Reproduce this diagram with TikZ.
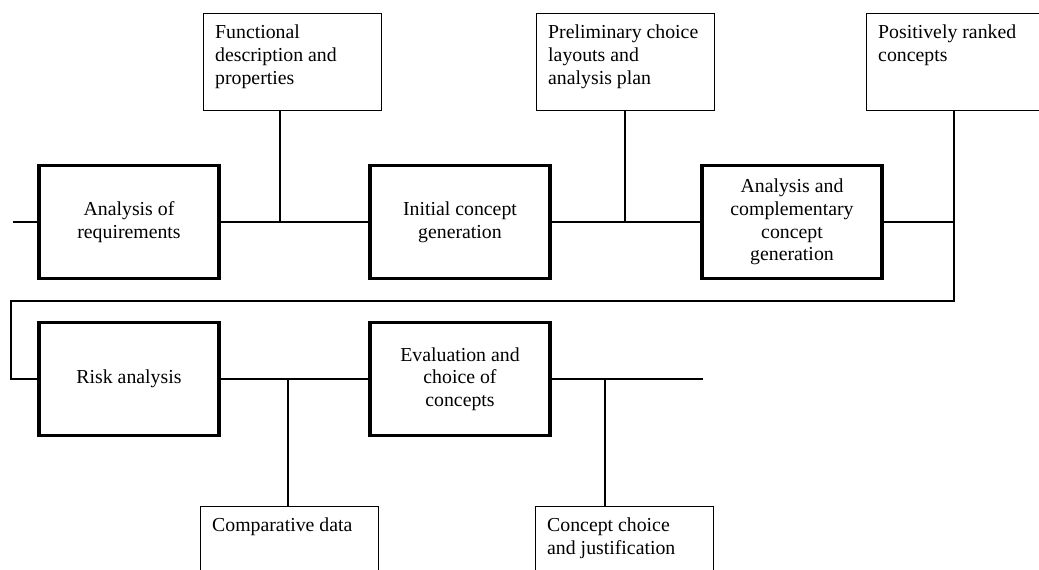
\documentclass[tikz,border=0pt]{standalone}
\usepackage{fontspec}
\setmainfont{Liberation Serif}
\usetikzlibrary{calc}
\begin{document}
\begin{tikzpicture}[x=1pt,y=-1pt,
  stage/.style={draw, line width=3.1pt, rectangle, minimum width=180pt, minimum height=113pt,
    inner sep=0pt, align=center, font=\fontsize{19.8}{22.7}\selectfont},
  docbox/.style={draw, line width=1.4pt, rectangle, anchor=north west, inner sep=0pt},
  doctext/.style={anchor=north west, inner sep=0pt, align=left, font=\fontsize{19.8}{22.7}\selectfont},
  link/.style={line width=2.2pt}]
\useasboundingbox (0,0) rectangle (1039,570);
\clip (0,0) rectangle (1039,570);

% documents produced along the way
\node[docbox, minimum width=178pt, minimum height=97pt] (fd) at (203,13) {};
\node[doctext] (fdt) at ($(fd.north west)+(12,12)$) {Functional\\description and\\properties};
\node[docbox, minimum width=178pt, minimum height=97pt] (pc) at (536,13) {};
\node[doctext] (pct) at ($(pc.north west)+(12,12)$) {Preliminary choice\\layouts and\\analysis plan};
\node[docbox, minimum width=190pt, minimum height=97pt] (pr) at (866,13) {};
\node[doctext] (prt) at ($(pr.north west)+(12,12)$) {Positively ranked\\concepts};
\node[docbox, minimum width=178pt, minimum height=90pt] (cd) at (200,506) {};
\node[doctext] (cdt) at ($(cd.north west)+(12,12)$) {Comparative data};
\node[docbox, minimum width=178pt, minimum height=90pt] (cc) at (535,506) {};
\node[doctext] (cct) at ($(cc.north west)+(12,12)$) {Concept choice\\and justification};

% process stages
\node[stage] (req) at (129,222) {Analysis of\\requirements};
\node[stage] (init) at (460,222) {Initial concept\\generation};
\node[stage] (anc) at (792,222) {Analysis and\\complementary\\concept\\generation};
\node[stage] (risk) at (129,379) {Risk analysis};
\node[stage] (eval) at (460,379) {Evaluation and\\choice of\\concepts};

% junction points and free ends
\coordinate (in) at (13,222);
\coordinate (j1) at (280,222);
\coordinate (j2) at (625,222);
\coordinate (j3) at (954,222);
\coordinate (r1) at (954,301);
\coordinate (r2) at (11,301);
\coordinate (r3) at (11,379);
\coordinate (j4) at (288,379);
\coordinate (j5) at (605,379);
\coordinate (out) at (703,379);

% upper flow
\draw[link] (in) -- (req.west);
\draw[link] (req.east) -- (init.west);
\draw[link] (init.east) -- (anc.west);
\draw[link] (anc.east) -- (j3);
\draw[link] (j1 |- fd.south) -- (j1);
\draw[link] (j2 |- pc.south) -- (j2);
\draw[link] (j3 |- pr.south) -- (r1) -- (r2) -- (r3) -- (risk.west);

% lower flow
\draw[link] (risk.east) -- (eval.west);
\draw[link] (eval.east) -- (out);
\draw[link] (j4) -- (j4 |- cd.north);
\draw[link] (j5) -- (j5 |- cc.north);
\end{tikzpicture}
\end{document}
